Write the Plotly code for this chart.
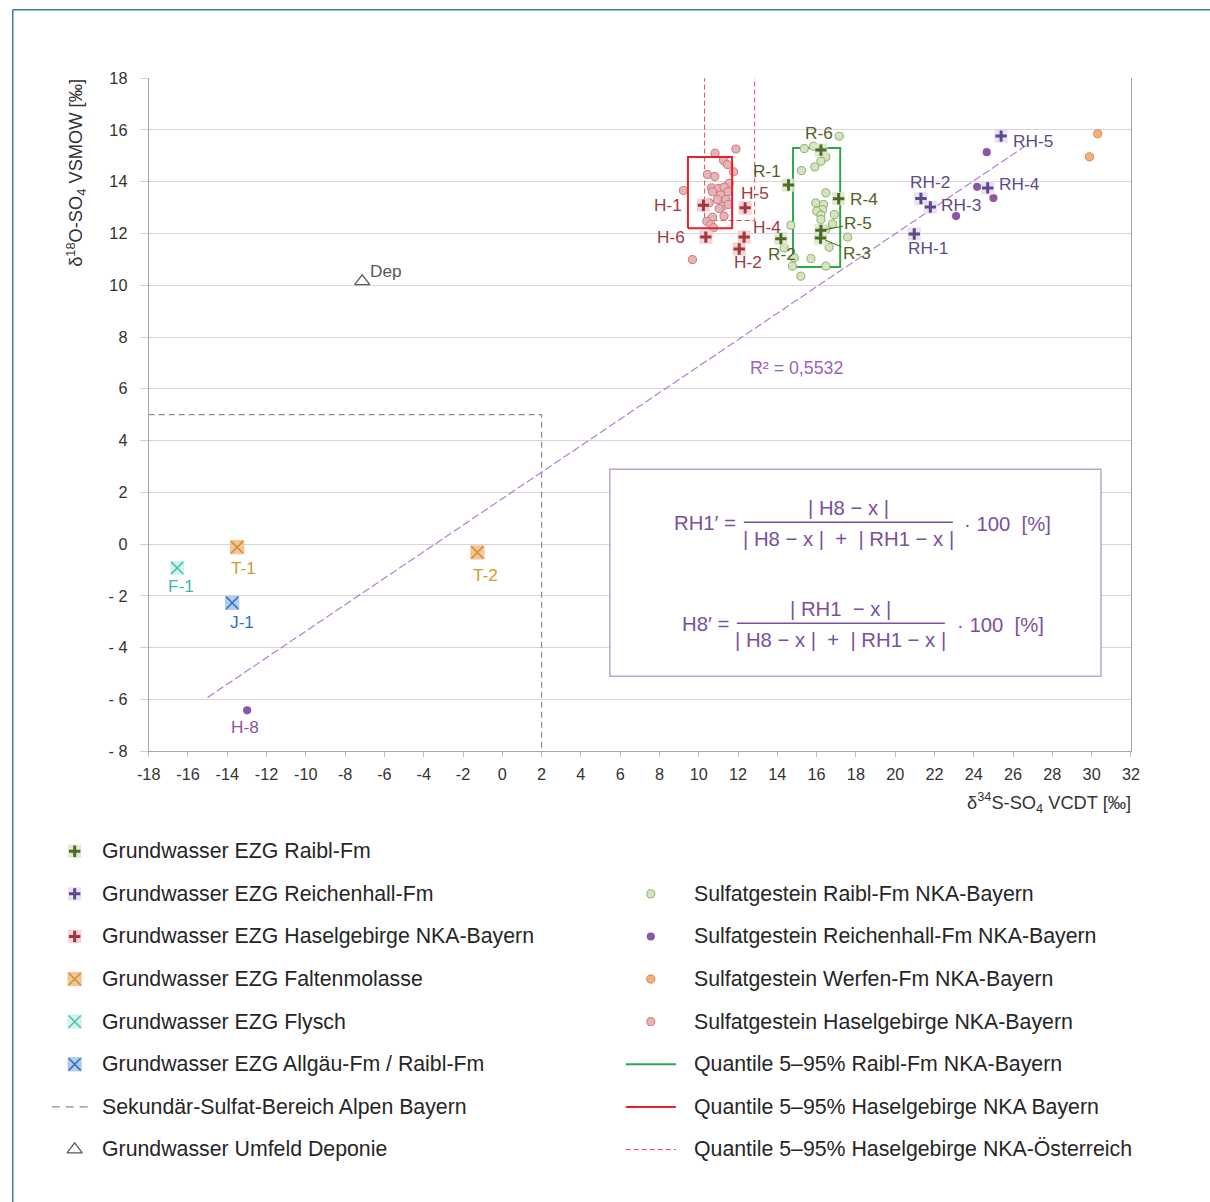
import plotly.graph_objects as go

# Layout positions are given on a 1210 x 1202 design grid; UNIT converts design pixels
# into figure pixels and BODY_MARGIN is the browser's default page margin.
DESIGN_W, DESIGN_H = 1210, 1202
UNIT = 1 / 0.985
X_GAIN, X_OFFSET = 1.0025, -4.5
BODY_MARGIN = 8
FIG_W = round(DESIGN_W * UNIT - BODY_MARGIN)
FIG_H = round(DESIGN_H * UNIT - BODY_MARGIN)

# plot area on the design grid
AX_LEFT, AX_RIGHT, AX_TOP, AX_BOTTOM = 149, 1131, 77, 750
X_RANGE = [-18, 32]
Y_RANGE = [-8, 18]
FONT = "Liberation Sans, Arial, sans-serif"


def u(v):
    """design size -> figure size"""
    return v * UNIT


# ---------------- data: δ34S-SO4 (x) / δ18O-SO4 (y) ----------------
# Sulfatgestein (rock samples)
raibl_rock_d34s = [17.15, 15.37, 15.84, 16.47, 16.22, 15.91, 15.23, 16.47, 15.96, 16.35,
                   16.30, 16.01, 16.22, 16.90, 16.22, 14.69, 16.81, 16.47, 17.58, 14.35,
                   16.64, 14.86, 15.71, 16.47, 14.77, 15.20]
raibl_rock_d18o = [15.76, 15.28, 15.37, 14.95, 14.79, 14.57, 14.43, 13.57, 13.18, 13.12,
                   12.92, 12.86, 12.71, 12.73, 12.54, 12.32, 12.37, 12.15, 11.86, 11.44,
                   11.47, 11.06, 11.03, 10.74, 10.74, 10.35]

hasel_rock_d34s = [10.83, 11.89, 11.26, 11.46, 11.77, 10.44, 10.82, 9.22, 11.55, 10.65,
                   10.99, 11.29, 10.70, 11.50, 11.12, 10.95, 11.38, 11.21, 11.51, 11.04,
                   10.53, 11.29, 10.70, 10.41, 10.61, 10.75, 9.68]
hasel_rock_d18o = [15.10, 15.26, 14.82, 14.66, 14.38, 14.28, 14.20, 13.66, 13.94, 13.76,
                   13.74, 13.79, 13.61, 13.61, 13.48, 13.31, 13.31, 13.05, 13.12, 12.96,
                   13.18, 12.67, 12.63, 12.47, 12.35, 12.22, 10.99]

reich_rock_d34s = [24.66, 24.17, 25.00, 23.10]
reich_rock_d18o = [15.14, 13.80, 13.37, 12.67]

werfen_rock_d34s = [30.31, 29.89]
werfen_rock_d18o = [15.85, 14.96]

# Grundwasser (groundwater samples)
raibl_gw_names = ["R-1", "R-2", "R-3", "R-4", "R-5", "R-6"]
raibl_gw_d34s = [14.57, 14.18, 16.20, 17.12, 16.22, 16.22]
raibl_gw_d18o = [13.87, 11.80, 11.82, 13.34, 12.12, 15.22]

reich_gw_names = ["RH-1", "RH-2", "RH-3", "RH-4", "RH-5"]
reich_gw_d34s = [20.97, 21.31, 21.79, 24.71, 25.39]
reich_gw_d18o = [11.98, 13.35, 13.02, 13.76, 15.76]

hasel_gw_names = ["H-1", "H-2", "H-4", "H-5", "H-6"]
hasel_gw_d34s = [10.24, 12.06, 12.31, 12.36, 10.36]
hasel_gw_d18o = [13.09, 11.40, 11.86, 12.99, 11.86]

h8_names = ["H-8"]
h8_d34s = [-12.99]
h8_d18o = [-6.42]

falten_names = ["T-1", "T-2"]
falten_d34s = [-13.50, -1.27]
falten_d18o = [-0.12, -0.32]

flysch_names = ["F-1"]
flysch_d34s = [-16.55]
flysch_d18o = [-0.92]

allgaeu_names = ["J-1"]
allgaeu_d34s = [-13.75]
allgaeu_d18o = [-2.27]

depo_names = ["Dep"]
depo_d34s = [-7.13]
depo_d18o = [10.15]

# Quantile 5-95 % boxes: [x_low, x_high], [y_low, y_high]
q_raibl_x, q_raibl_y = [14.80, 17.20], [10.70, 15.30]
q_hasel_by_x, q_hasel_by_y = [9.45, 11.70], [12.20, 14.95]
q_hasel_at_x, q_hasel_at_y = [10.30, 12.85], [12.50, 18.60]

# Secondary sulfate zone (upper right corner)
sek_x_max, sek_y_max = 2.0, 5.0

# Linear regression of the Reichenhall/H-8 mixing line
trend_x = [-15.0, 26.8]
trend_slope, trend_intercept = 0.5117, 1.755
trend_r2 = "0,5532"

x_ticks = list(range(-18, 33, 2))
y_ticks = list(range(-8, 19, 2))
x_ticktext = [(f"-{abs(v)}" if v < 0 else str(v)) for v in x_ticks]
y_ticktext = [(f"- {abs(v)}" if v < 0 else str(v)) for v in y_ticks]

legend_left = [
    "Grundwasser EZG Raibl-Fm",
    "Grundwasser EZG Reichenhall-Fm",
    "Grundwasser EZG Haselgebirge NKA-Bayern",
    "Grundwasser EZG Faltenmolasse",
    "Grundwasser EZG Flysch",
    "Grundwasser EZG Allgäu-Fm / Raibl-Fm",
    "Sekundär-Sulfat-Bereich Alpen Bayern",
    "Grundwasser Umfeld Deponie",
]
legend_right = [
    "Sulfatgestein Raibl-Fm NKA-Bayern",
    "Sulfatgestein Reichenhall-Fm NKA-Bayern",
    "Sulfatgestein Werfen-Fm NKA-Bayern",
    "Sulfatgestein Haselgebirge NKA-Bayern",
    "Quantile 5–95% Raibl-Fm NKA-Bayern",
    "Quantile 5–95% Haselgebirge NKA Bayern",
    "Quantile 5–95% Haselgebirge NKA-Österreich",
]

# ---------------- styles ----------------
C_RAIBL = "#4e6b27"
C_RAIBL_BG = "#dce8cc"
C_REICH = "#5d4888"
C_REICH_BG = "#e5ddf0"
C_HASEL = "#a3363c"
C_HASEL_BG = "#f1cbce"
C_FALTEN = "#c99327"
C_FALTEN_BG = "#f6b88a"
C_FLYSCH = "#45c1b0"
C_FLYSCH_BG = "#cdeee8"
C_ALLG = "#2f6fbf"
C_ALLG_BG = "#a2c3ea"
C_PURPLE_DOT = "#8d55a4"
C_TREND = "#b57fcc"
C_FORMULA = "#7b4f9f"
C_AT_DASH = "#e24b4f"

label_style = {
    # name: (xshift, yshift, xanchor)
    "H-1": (-19, 0, "right"), "H-6": (-19, 0, "right"), "H-5": (-6, 15, "left"),
    "H-4": (7, 10, "left"), "H-2": (9, -13, "center"),
    "R-6": (-2, 17, "center"), "R-1": (-5, 14, "right"), "R-4": (9, 0, "left"),
    "R-2": (1, -15, "center"),
    "RH-5": (10, -5, "left"), "RH-2": (9, 16, "center"), "RH-3": (9, 2, "left"),
    "RH-4": (9, 4, "left"), "RH-1": (14, -14, "center"),
    "T-1": (6, -20, "center"), "T-2": (8, -22, "center"), "F-1": (4, -18, "center"),
    "J-1": (10, -19, "center"), "H-8": (-2, -16, "center"), "Dep": (6, 10, "left"),
}
leader_style = {"R-5": (37, -7), "R-3": (36, 15)}

fig = go.Figure()


def add(trace, legend=False):
    if legend:
        trace.update(xaxis="x2", yaxis="y2")
    trace.update(showlegend=False, hoverinfo="skip")
    fig.add_trace(trace)


def box_xy(xr, yr):
    return ([xr[0], xr[1], xr[1], xr[0], xr[0]], [yr[0], yr[0], yr[1], yr[1], yr[0]])


def dot(size, color, edge=None):
    return dict(symbol="circle", size=u(size), color=color,
                line=dict(color=edge or color, width=1 if edge else 0))


# secondary sulfate zone
add(go.Scatter(x=[X_RANGE[0], sek_x_max, sek_x_max], y=[sek_y_max, sek_y_max, Y_RANGE[0]],
               mode="lines", line=dict(color="#8c8c8c", width=1.2, dash="6px,4px")))

# regression line
add(go.Scatter(x=trend_x, y=[trend_slope * v + trend_intercept for v in trend_x], mode="lines",
               line=dict(color=C_TREND, width=1.2, dash="8px,3px")))

# quantile box Österreich (dashed)
bx, by = box_xy(q_hasel_at_x, q_hasel_at_y)
add(go.Scatter(x=bx, y=by, mode="lines", line=dict(color=C_AT_DASH, width=1, dash="5px,3px")))

# rock samples and quantile boxes
add(go.Scatter(x=hasel_rock_d34s, y=hasel_rock_d18o, mode="markers", marker=dot(8, "#e8b3b5", "#c7797e")))
bx, by = box_xy(q_hasel_by_x, q_hasel_by_y)
add(go.Scatter(x=bx, y=by, mode="lines", line=dict(color="#e8202a", width=2)))
bx, by = box_xy(q_raibl_x, q_raibl_y)
add(go.Scatter(x=bx, y=by, mode="lines", line=dict(color="#2ea84a", width=2)))

add(go.Scatter(x=raibl_rock_d34s, y=raibl_rock_d18o, mode="markers", marker=dot(8, "#d2e5bd", "#8fae6d")))
add(go.Scatter(x=reich_rock_d34s, y=reich_rock_d18o, mode="markers", marker=dot(8, C_PURPLE_DOT)))
add(go.Scatter(x=h8_d34s, y=h8_d18o, mode="markers", marker=dot(8, C_PURPLE_DOT)))
add(go.Scatter(x=werfen_rock_d34s, y=werfen_rock_d18o, mode="markers", marker=dot(8, "#f6b07c", "#d8874a")))


def plus_marker(x, y, color, bg, legend=False, sq=13, cs=8):
    add(go.Scatter(x=x, y=y, mode="markers",
                   marker=dict(symbol="square", size=u(sq), color=bg, opacity=0.85, line=dict(width=0))), legend)
    add(go.Scatter(x=x, y=y, mode="markers",
                   marker=dict(symbol="cross-thin", size=u(cs), line=dict(color=color, width=3))), legend)


def x_marker(x, y, color, bg, legend=False, sq=14, cs=12):
    add(go.Scatter(x=x, y=y, mode="markers",
                   marker=dict(symbol="square", size=u(sq), color=bg, opacity=0.85, line=dict(width=0))), legend)
    add(go.Scatter(x=x, y=y, mode="markers",
                   marker=dict(symbol="x-thin", size=u(cs), line=dict(color=color, width=1.5))), legend)


def triangle():
    return dict(symbol="triangle-up-open", size=u(13), color="#595959", line=dict(width=1.3))


plus_marker(hasel_gw_d34s, hasel_gw_d18o, C_HASEL, C_HASEL_BG)
plus_marker(raibl_gw_d34s, raibl_gw_d18o, C_RAIBL, C_RAIBL_BG)
plus_marker(reich_gw_d34s, reich_gw_d18o, C_REICH, C_REICH_BG)
x_marker(falten_d34s, falten_d18o, C_FALTEN, C_FALTEN_BG)
x_marker(flysch_d34s, flysch_d18o, C_FLYSCH, C_FLYSCH_BG)
x_marker(allgaeu_d34s, allgaeu_d18o, C_ALLG, C_ALLG_BG)
add(go.Scatter(x=depo_d34s, y=depo_d18o, mode="markers", marker=triangle()))

annotations = []


def point_labels(names, xs, ys, color):
    for n, x, y in zip(names, xs, ys):
        font = dict(size=u(17), color=color, family=FONT)
        if n in leader_style:
            ax, ay = leader_style[n]
            annotations.append(dict(x=x, y=y, xref="x", yref="y", text=n, showarrow=True,
                                    arrowhead=0, arrowwidth=1, arrowcolor=color, ax=u(ax), ay=u(ay),
                                    standoff=u(5), font=font))
        else:
            xs_, ys_, anc = label_style[n]
            annotations.append(dict(x=x, y=y, xref="x", yref="y", text=n, showarrow=False,
                                    xshift=u(xs_), yshift=u(ys_), xanchor=anc, yanchor="middle",
                                    font=font))


point_labels(hasel_gw_names, hasel_gw_d34s, hasel_gw_d18o, "#a03a3e")
point_labels(raibl_gw_names, raibl_gw_d34s, raibl_gw_d18o, "#4f6228")
point_labels(reich_gw_names, reich_gw_d34s, reich_gw_d18o, "#5e4a88")
point_labels(falten_names, falten_d34s, falten_d18o, "#d09a2c")
point_labels(flysch_names, flysch_d34s, flysch_d18o, "#3bbba9")
point_labels(allgaeu_names, allgaeu_d34s, allgaeu_d18o, "#2c71c2")
point_labels(h8_names, h8_d34s, h8_d18o, C_PURPLE_DOT)
point_labels(depo_names, depo_d34s, depo_d18o, "#595959")

# R² of the regression
annotations.append(dict(x=15.0, y=6.8, xref="x", yref="y", text=f"R² = {trend_r2}", showarrow=False,
                        font=dict(size=u(17.5), color="#9d62b8", family=FONT)))


def fig_x(p):
    """design x -> figure pixel"""
    return UNIT * (p * X_GAIN + X_OFFSET) - BODY_MARGIN


def px(p):
    """design x -> paper fraction"""
    return fig_x(p) / FIG_W


def py(p):
    """design y -> paper fraction"""
    return 1 - (p * UNIT - BODY_MARGIN) / FIG_H


def ptext(x, y, text, size=16, color="#333333", xanchor="center", **kw):
    annotations.append(dict(x=px(x), y=py(y), xref="paper", yref="paper", text=text, showarrow=False,
                            xanchor=xanchor, yanchor="middle",
                            font=dict(size=u(size), color=color, family=FONT), **kw))


# axis titles
ptext(76, 172, "δ<sup>18</sup>O-SO<sub>4</sub> VSMOW [‰]", size=18, textangle=-90)
ptext(1133, 801, "δ<sup>34</sup>S-SO<sub>4</sub> VCDT [‰]", size=18, xanchor="right")

shapes = []

# formula box
shapes.append(dict(type="rect", xref="paper", yref="paper", x0=px(610), x1=px(1101), y0=py(675), y1=py(468),
                   line=dict(color="#bda6d4", width=1.5), fillcolor="white", layer="above"))


def fraction(lhs, lhs_right, y_mid, num, den, bar_x0, bar_x1, tail_x):
    ptext(lhs_right, y_mid, lhs, size=20, color=C_FORMULA, xanchor="right")
    cx = (bar_x0 + bar_x1) / 2
    ptext(cx, y_mid - 15, num, size=20, color=C_FORMULA)
    ptext(cx, y_mid + 16, den, size=20, color=C_FORMULA)
    shapes.append(dict(type="line", xref="paper", yref="paper", x0=px(bar_x0), x1=px(bar_x1),
                       y0=py(y_mid - 1), y1=py(y_mid - 1), line=dict(color=C_FORMULA, width=1.5),
                       layer="above"))
    ptext(tail_x, y_mid + 1, "· 100  [%]", size=20, color=C_FORMULA, xanchor="left")


fraction("RH1′ =", 738, 522, "| H8 − x |", "| H8 − x |  +  | RH1 − x |", 744, 953, 962)
fraction("H8′ =", 731, 623, "| RH1  − x |", "| H8 − x |  +  | RH1 − x |", 737, 945, 955)

# outer frame
FRAME_X = max(px(8), 0.75 / FIG_W)
FRAME_Y = min(py(8), 1 - 0.75 / FIG_H)
shapes.append(dict(type="line", xref="paper", yref="paper", x0=FRAME_X, x1=FRAME_X, y0=FRAME_Y, y1=0,
                   line=dict(color="#3b7d96", width=1.5)))
shapes.append(dict(type="line", xref="paper", yref="paper", x0=FRAME_X, x1=1, y0=FRAME_Y, y1=FRAME_Y,
                   line=dict(color="#3b7d96", width=1.5)))

# ---------------- legend (design coordinates on the overlay axes) ----------------
ROW0, ROW_STEP = 850, 42.6
rows = [ROW0 + i * ROW_STEP for i in range(8)]
LX_SYM, LX_TXT = 75, 100
RX_SYM, RX_TXT = 651, 692

plus_marker([LX_SYM], [rows[0]], C_RAIBL, C_RAIBL_BG, legend=True)
plus_marker([LX_SYM], [rows[1]], C_REICH, C_REICH_BG, legend=True)
plus_marker([LX_SYM], [rows[2]], C_HASEL, C_HASEL_BG, legend=True)
x_marker([LX_SYM], [rows[3]], C_FALTEN, C_FALTEN_BG, legend=True)
x_marker([LX_SYM], [rows[4]], C_FLYSCH, C_FLYSCH_BG, legend=True)
x_marker([LX_SYM], [rows[5]], C_ALLG, C_ALLG_BG, legend=True)
add(go.Scatter(x=[52, 93], y=[rows[6], rows[6]], mode="lines",
               line=dict(color="#8c8c8c", width=1.2, dash="8px,6px")), legend=True)
add(go.Scatter(x=[LX_SYM], y=[rows[7]], mode="markers", marker=triangle()), legend=True)

add(go.Scatter(x=[RX_SYM], y=[rows[1]], mode="markers", marker=dot(8, "#d2e5bd", "#8fae6d")), legend=True)
add(go.Scatter(x=[RX_SYM], y=[rows[2]], mode="markers", marker=dot(8, C_PURPLE_DOT)), legend=True)
add(go.Scatter(x=[RX_SYM], y=[rows[3]], mode="markers", marker=dot(8, "#f6b07c", "#d8874a")), legend=True)
add(go.Scatter(x=[RX_SYM], y=[rows[4]], mode="markers", marker=dot(8, "#e8b3b5", "#c7797e")), legend=True)
add(go.Scatter(x=[626, 676], y=[rows[5], rows[5]], mode="lines", line=dict(color="#2ea84a", width=2)),
    legend=True)
add(go.Scatter(x=[626, 676], y=[rows[6], rows[6]], mode="lines", line=dict(color="#e8202a", width=2)),
    legend=True)
add(go.Scatter(x=[626, 676], y=[rows[7], rows[7]], mode="lines",
               line=dict(color=C_AT_DASH, width=1.2, dash="5px,3px")), legend=True)

for r, t in zip(rows, legend_left):
    ptext(LX_TXT, r, t, size=21, color="#262626", xanchor="left")
for r, t in zip(rows[1:], legend_right):
    ptext(RX_TXT, r, t, size=21, color="#262626", xanchor="left")

# overlay axes map design pixels linearly onto the figure
x2_slope = UNIT * X_GAIN
x2_icpt = UNIT * X_OFFSET - BODY_MARGIN
x2_range = [(0 - x2_icpt) / x2_slope, (FIG_W - x2_icpt) / x2_slope]

tickfont = dict(size=u(16), color="#333333", family=FONT)
fig.update_layout(
    width=FIG_W, height=FIG_H, autosize=False,
    margin=dict(l=0, r=0, t=0, b=0),
    paper_bgcolor="white", plot_bgcolor="rgba(0,0,0,0)",
    font=dict(family=FONT, color="#333333"),
    xaxis=dict(domain=[px(AX_LEFT), px(AX_RIGHT)], range=X_RANGE, anchor="y",
               tickmode="array", tickvals=x_ticks, ticktext=x_ticktext,
               showgrid=False, zeroline=False, showline=True, linecolor="#a6a6a6", linewidth=1,
               ticks="outside", ticklen=round(u(5)), tickcolor="#bfbfbf", ticklabelstandoff=round(u(3)),
               tickfont=tickfont),
    yaxis=dict(domain=[py(AX_BOTTOM), py(AX_TOP)], range=Y_RANGE, anchor="x",
               tickmode="array", tickvals=y_ticks, ticktext=y_ticktext,
               showgrid=True, gridcolor="#d6d6d6", gridwidth=1, zeroline=False,
               showline=True, linecolor="#a6a6a6", linewidth=1, mirror=True,
               ticks="outside", ticklen=round(u(8)), tickcolor="#cfcfcf", ticklabelstandoff=round(u(9)),
               tickfont=tickfont),
    xaxis2=dict(domain=[0, 1], range=x2_range, anchor="y2", visible=False, fixedrange=True),
    yaxis2=dict(domain=[0, 1], range=[(FIG_H + BODY_MARGIN) / UNIT, BODY_MARGIN / UNIT], anchor="x2",
                visible=False, fixedrange=True),
    annotations=annotations,
    shapes=shapes,
)

fig.write_html("out.html", config={"displayModeBar": False})
